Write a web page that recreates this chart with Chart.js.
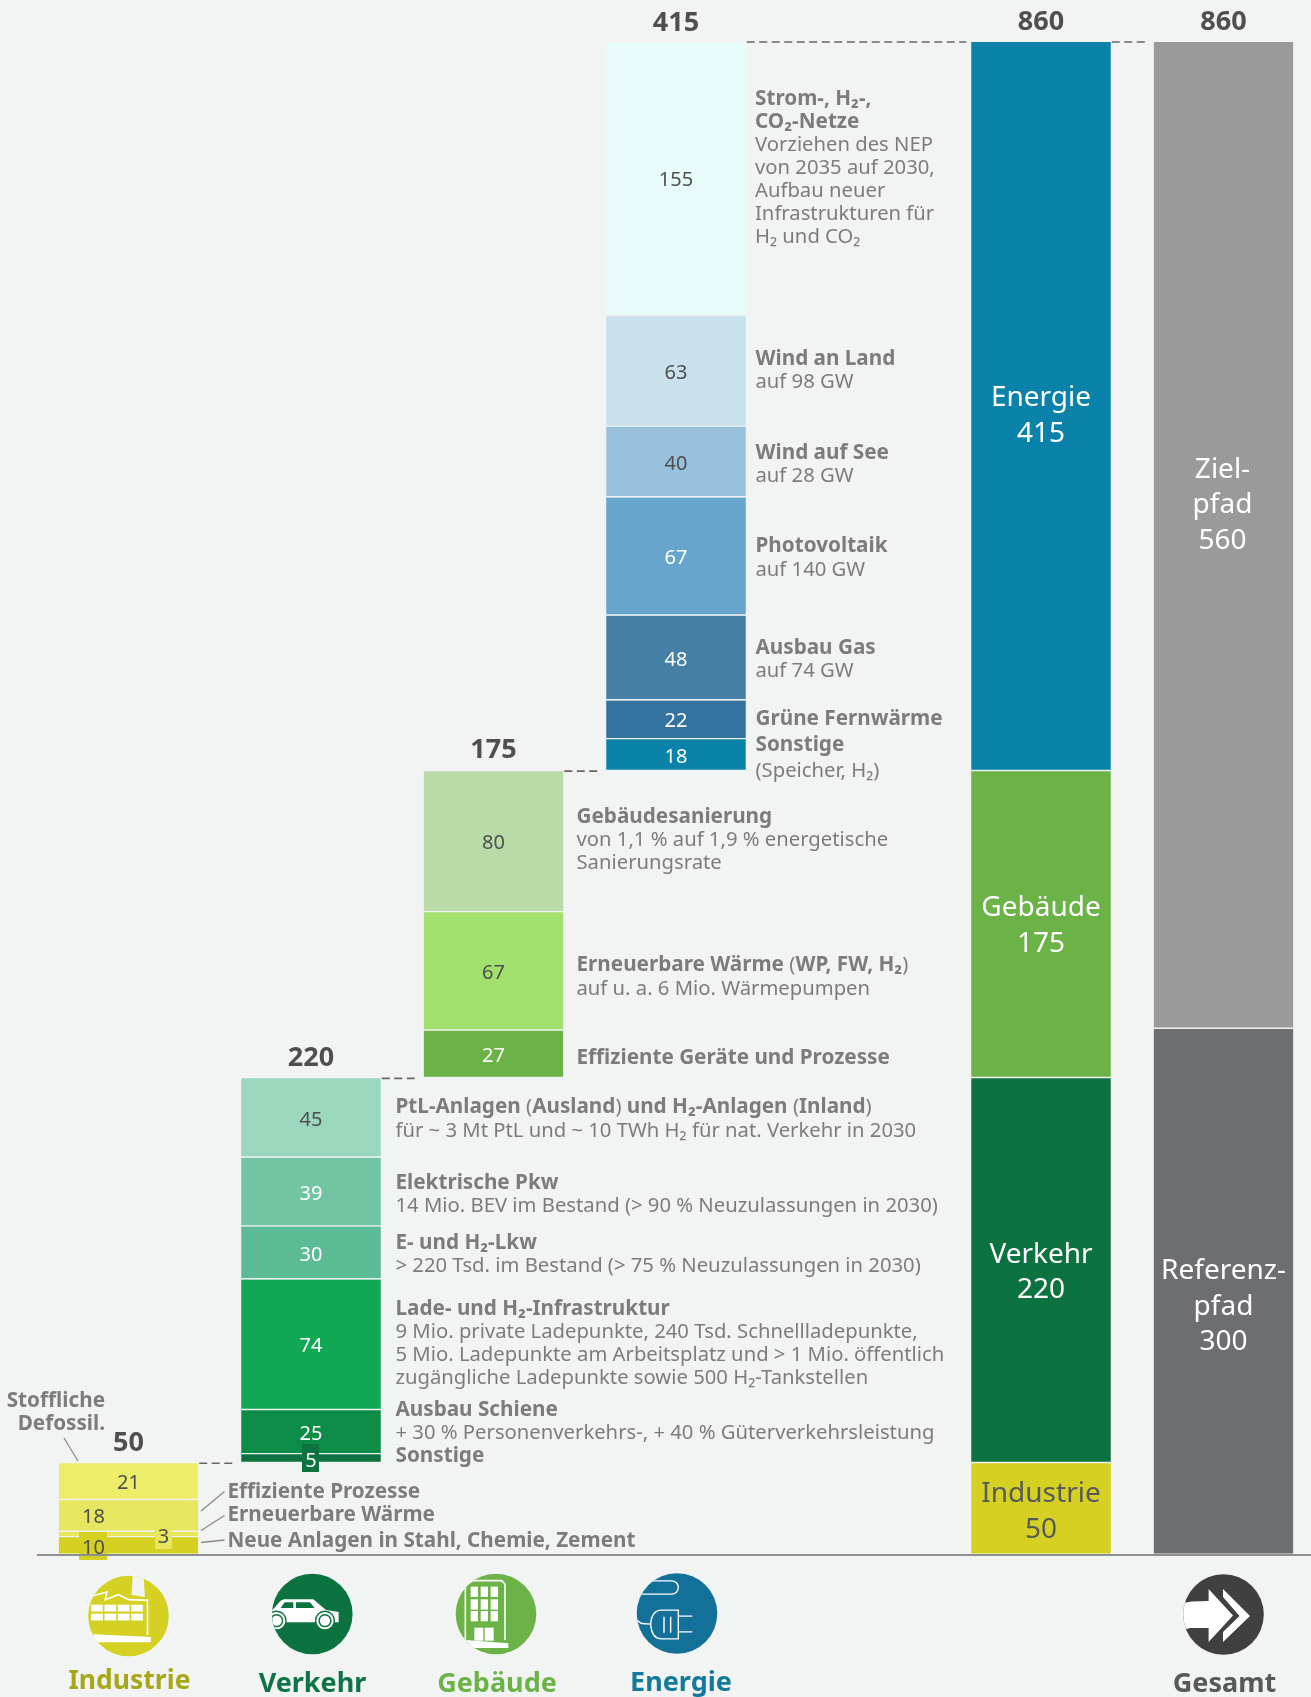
<!DOCTYPE html>
<html lang="de"><head><meta charset="utf-8">
<style>html,body{margin:0;padding:0;background:#f2f4f3;overflow:hidden}canvas{display:block}</style>
<script src="https://cdn.jsdelivr.net/npm/chart.js@4/dist/chart.umd.min.js"></script>
</head><body><div style="width:1311px;height:1697px;position:relative"><canvas id="c" width="1311" height="1697"></canvas></div>
<script>
// ---- data ----
const categories = ['Industrie','Verkehr','Gebäude','Energie','','Summe','Gesamt'];
const industrieValues = [10,3,18,21];
const verkehrValues   = [5,25,74,30,39,45];
const gebaeudeValues  = [27,67,80];
const energieValues   = [18,22,48,67,40,63,155];
const sectorNames  = ['Industrie','Verkehr','Gebäude','Energie'];
const sectorHeights = [52,218,174,413];
const sectorLabels = ['50','220','175','415'];
const pathNames = ['Referenzpfad','Zielpfad'];
const pathHeights = [298,559];
const pathLabels = ['300','560'];
const totalLabels = ['50','220','175','415','860','860'];

const industrieColors = ['#d4d122','#e8e65b','#e6e65f','#eded69'];
const verkehrColors   = ['#0c7340','#0d8c48','#10a854','#5bbb94','#72c5a2','#9bd7bd'];
const gebaeudeColors  = ['#6cb347','#a2e06d','#b8dba8'];
const energieColors   = ['#0a82aa','#34739f','#457fa6','#67a5cc','#97c1dc','#c9e0ed','#e8fbfb'];
const sectorColors = ['#d4d122','#0c7340','#6cb347','#0a82aa'];
const pathColors = ['#6d6e71','#9a9a9a'];
const darkText = '#4f4f4f';
const industrieInk = [darkText,darkText,darkText,darkText];
const verkehrInk = ['#fff','#fff','#fff','#fff','#fff',darkText];
const gebaeudeInk = ['#fff',darkText,darkText];
const energieInk = ['#fff','#fff','#fff','#fff',darkText,darkText,darkText];

const noteLines = [
 ['**Strom-, H₂-,'],['**CO₂-Netze'],['Vorziehen des NEP'],['von 2035 auf 2030,'],['Aufbau neuer'],['Infrastrukturen für'],['H₂ und CO₂'],
 ['**Wind an Land'],['auf 98 GW'],['**Wind auf See'],['auf 28 GW'],['**Photovoltaik'],['auf 140 GW'],['**Ausbau Gas'],['auf 74 GW'],
 ['**Grüne Fernwärme'],['**Sonstige'],['(Speicher, H₂)'],
 ['**Gebäudesanierung'],['von 1,1 % auf 1,9 % energetische'],['Sanierungsrate'],
 ['**Erneuerbare Wärme ','(','**WP, FW, H₂',')'],['auf u. a. 6 Mio. Wärmepumpen'],['**Effiziente Geräte und Prozesse'],
 ['**PtL-Anlagen ','(','**Ausland',') ','**und H₂-Anlagen ','(','**Inland',')'],['für ~ 3 Mt PtL und ~ 10 TWh H₂ für nat. Verkehr in 2030'],
 ['**Elektrische Pkw'],['14 Mio. BEV im Bestand (> 90 % Neuzulassungen in 2030)'],
 ['**E- und H₂-Lkw'],['> 220 Tsd. im Bestand (> 75 % Neuzulassungen in 2030)'],
 ['**Lade- und H₂-Infrastruktur'],['9 Mio. private Ladepunkte, 240 Tsd. Schnellladepunkte,'],['5 Mio. Ladepunkte am Arbeitsplatz und > 1 Mio. öffentlich'],['zugängliche Ladepunkte sowie 500 H₂-Tankstellen'],
 ['**Ausbau Schiene'],['+ 30 % Personenverkehrs-, + 40 % Güterverkehrsleistung'],['**Sonstige'],
 ['**Effiziente Prozesse'],['**Erneuerbare Wärme'],['**Neue Anlagen in Stahl, Chemie, Zement']
];

// ---- layout ----
const noteXY = [
 [755,104.5],[755,128],[755,151],[755,174],[755,197],[755,220],[755,243],
 [755.5,365],[755.5,388],[755.5,459],[755.5,482],[755.5,552],[755.5,575.5],[755.5,654],[755.5,677],
 [755.5,725],[755.5,751],[755.5,776.5],
 [576.5,823],[576.5,846],[576.5,869],
 [576.5,971],[576.5,994.5],[576.5,1064],
 [395.5,1113],[395.5,1136.5],[395.5,1189],[395.5,1212],[395.5,1249],[395.5,1272],
 [395.5,1315],[395.5,1338],[395.5,1361],[395.5,1384],[395.5,1416],[395.5,1439],[395.5,1462],
 [227.5,1497.5],[227.5,1521],[227.5,1546.5]
];
const FONT = '"Noto Sans"';
const BG = '#f2f4f3';
const NOTE = '#7c7c7c';

function floating(list, colIndex, start, colors, names){
  let base = start;
  return list.map((v,i)=>{
    const data = categories.map(()=>null);
    data[colIndex] = [base, base+v];
    base += v;
    return {label:(names&&names[i])||categories[colIndex]+' '+v, data, backgroundColor:colors[i]};
  });
}
function sum(a){return a.reduce((s,v)=>s+v,0);}
const s0 = sum(industrieValues), s1 = s0+sum(verkehrValues), s2 = s1+sum(gebaeudeValues), s3 = s2+sum(energieValues);
const datasets = [
 ...floating(industrieValues,0,0,industrieColors),
 ...floating(verkehrValues,1,s0,verkehrColors),
 ...floating(gebaeudeValues,2,s1,gebaeudeColors),
 ...floating(energieValues,3,s2,energieColors),
 ...floating(sectorHeights,5,0,sectorColors,sectorNames),
 ...floating(pathHeights,6,0,pathColors,pathNames)
];
const inks = [...industrieInk,...verkehrInk,...gebaeudeInk,...energieInk];
const segLabels = [...industrieValues,...verkehrValues,...gebaeudeValues,...energieValues];

function rect(ctx,x,y,w,h,c){ctx.fillStyle=c;ctx.fillRect(x,y,w,h);}
function txt(ctx,s,x,y,font,color,align){ctx.font=font;ctx.fillStyle=color;ctx.textAlign=align||'left';ctx.textBaseline='alphabetic';ctx.fillText(s,x,y);}
function line(ctx,pts,c,w,dash){ctx.beginPath();pts.forEach((p,i)=>i?ctx.lineTo(p[0],p[1]):ctx.moveTo(p[0],p[1]));ctx.strokeStyle=c;ctx.lineWidth=w;ctx.setLineDash(dash||[]);ctx.stroke();ctx.setLineDash([]);}

function drawIcons(ctx){
  const W='#ffffff';
  const disc=(cx,cy,c,fn)=>{ctx.save();ctx.beginPath();ctx.arc(cx,cy,40.3,0,Math.PI*2);ctx.fillStyle=c;ctx.fill();ctx.clip();fn();ctx.restore();};
  const poly=(pts,c)=>{ctx.beginPath();pts.forEach((p,i)=>i?ctx.lineTo(p[0],p[1]):ctx.moveTo(p[0],p[1]));ctx.closePath();ctx.fillStyle=c;ctx.fill();};
  // Industrie
  let cx=128.5,cy=1616;
  const zi=(x,y)=>[cx+(x-205)/3,cy+(y-169)/3];
  disc(cx,cy,'#d4d122',()=>{
    poly([zi(218,40),zi(250,40),zi(254,112),zi(214,106)],BG);
    line(ctx,[zi(92,110),zi(140,97),zi(135,120),zi(175,105),zi(205,120),zi(262,122),zi(262,226)],W,1.6);
    for(const y of [135,162])for(const x of [93,133,173,213]){const p=zi(x,y);rect(ctx,p[0],p[1],11.7,6.8,W);}
    poly([zi(100,224),zi(272,232),zi(272,248),zi(100,248)],W);
  });
  // Verkehr
  cx=312.3;cy=1614;
  const zv=(x,y)=>[cx+(x-757)/3,cy+(y-162)/3];
  disc(cx,cy,'#0c7340',()=>{
    poly([zv(630,158),zv(662,122),zv(672,118),zv(760,118),zv(798,150),zv(836,156),zv(836,187),zv(630,187)],W);
    poly([zv(662,144),zv(674,127),zv(700,127),zv(700,144)],'#0c7340');
    poly([zv(708,127),zv(750,127),zv(764,144),zv(708,144)],'#0c7340');
    for(const [x,y,r] of [[650,182,26],[795,182,26]]){const p=zv(x,y);
      ctx.beginPath();ctx.arc(p[0],p[1],r/3+1.4,0,7);ctx.fillStyle='#0c7340';ctx.fill();
      ctx.beginPath();ctx.arc(p[0],p[1],r/3,0,7);ctx.fillStyle=W;ctx.fill();
      ctx.beginPath();ctx.arc(p[0],p[1],r/3-2,0,7);ctx.fillStyle='#0c7340';ctx.fill();
      ctx.beginPath();ctx.arc(p[0],p[1],r/3-3.5,0,7);ctx.fillStyle=W;ctx.fill();}
  });
  // Gebäude
  cx=496;cy=1614;
  const zg=(x,y)=>[cx+(x-168)/3,cy+(y-162)/3];
  disc(cx,cy,'#6cb347',()=>{
    line(ctx,[zg(76,242),zg(76,70),zg(100,62),zg(185,62),zg(195,72),zg(195,240)],W,1.6);
    for(const y of [80,118,153])for(const x of [92,122,152]){const p=zg(x,y);rect(ctx,p[0],p[1],7.3,10.3,W);}
    for(const x of [103,134]){const p=zg(x,203);rect(ctx,p[0],p[1],9,13,W);}
    poly([zg(76,240),zg(205,250),zg(205,264),zg(100,264)],W);
  });
  // Energie
  cx=677;cy=1613.5;
  const ze=(x,y)=>[cx+(x-711)/3,cy+(y-160)/3];
  disc(cx,cy,'#137099',()=>{
    const a=ze(590,102),b=ze(695,102),c=ze(695,62),d=ze(630,62);
    ctx.beginPath();ctx.moveTo(a[0],a[1]);ctx.lineTo(b[0],b[1]);ctx.arc(b[0],(b[1]+c[1])/2,(b[1]-c[1])/2,Math.PI/2,-Math.PI/2,true);ctx.lineTo(d[0],d[1]);ctx.strokeStyle=W;ctx.lineWidth=1.4;ctx.stroke();
    const m=ze(715,150),n=ze(665,150),o=ze(632,192),q=ze(665,236),r=ze(715,236);
    ctx.beginPath();ctx.moveTo(m[0],m[1]);ctx.lineTo(n[0],n[1]);ctx.quadraticCurveTo(o[0]+1,n[1],o[0],o[1]);ctx.quadraticCurveTo(o[0]+1,q[1],q[0],q[1]);ctx.lineTo(r[0],r[1]);ctx.closePath();ctx.stroke();
    line(ctx,[ze(672,170),ze(672,218)],W,1.4);line(ctx,[ze(692,170),ze(692,218)],W,1.4);
    line(ctx,[ze(715,168),ze(757,168)],W,1.4);line(ctx,[ze(715,215),ze(757,215)],W,1.4);
    line(ctx,[ze(590,180),ze(605,190),ze(632,192)],W,1.4);
  });
  // Gesamt
  cx=1223.5;cy=1614.5;
  disc(cx,cy,'#404041',()=>{
    poly([[1183,1603],[1192,1601.5],[1208.6,1601],[1208.6,1589],[1233,1615.5],[1208.6,1642],[1208.6,1628],[1190,1628],[1183,1630]],W);
    poly([[1223,1589],[1250,1616],[1223,1642],[1223,1632],[1239.5,1616],[1223,1597]],W);
  });
}

const overlay = {
  id:'overlay',
  afterDatasetsDraw(chart){
    const ctx = chart.ctx, x = chart.scales.x, y = chart.scales.y;
    ctx.save();
    const bw = 139.5;
    const colX = i => x.getPixelForValue(i);
    // connectors
    const dash=[8,4.5];
    const conn=(fromCol,toCol,val)=>line(ctx,[[colX(fromCol)+bw/2+1,y.getPixelForValue(val)],[colX(toCol)-bw/2-5,y.getPixelForValue(val)]],'#666666',1.6,dash);
    conn(0,1,s0);conn(1,2,s1);conn(2,3,s2);conn(3,5,s3);conn(5,6,s3);
    // value boxes that stick out of thin bars
    rect(ctx,79,1532,28,28,'#d4d122');
    rect(ctx,155,1520,17,29,'#e8e65b');
    rect(ctx,302,1444,17,28,'#0c7340');
    // baseline
    rect(ctx,37,y.getPixelForValue(0)-1,1274,2,'#8f8f8f');
    // segment labels
    const segFont='20px '+FONT;
    segLabels.forEach((v,i)=>{
      const meta=chart.getDatasetMeta(i), idx=chart.data.datasets[i].data.findIndex(d=>d), el=meta.data[idx];
      let cxx=el.x,cyy=(el.y+el.base)/2+7.5;
      if(i===0){cxx=93.5;cyy=1554;}
      if(i===1){cxx=163.5;cyy=1542.5;}
      if(i===2){cxx=93.5;cyy=1523;}
      if(i===4){cyy=1467;}
      txt(ctx,String(v),cxx,cyy,segFont,inks[i],'center');
    });
    // totals
    const totFont='bold 27px '+FONT, totCol=[0,1,2,3,5,6], totY=[1451,1066,758,31,30,30];
    totalLabels.forEach((t,i)=>txt(ctx,t,colX(totCol[i]),totY[i],totFont,'#4f4f4f','center'));
    // sector column labels
    const lab='28px '+FONT;
    const cx5=colX(5),cx6=colX(6);
    txt(ctx,'Industrie',cx5,1501.5,lab,'#58595b','center');txt(ctx,sectorLabels[0],cx5,1537.5,lab,'#58595b','center');
    txt(ctx,'Verkehr',cx5,1263,lab,'#fff','center');txt(ctx,sectorLabels[1],cx5,1298,lab,'#fff','center');
    txt(ctx,'Gebäude',cx5,916,lab,'#fff','center');txt(ctx,sectorLabels[2],cx5,952,lab,'#fff','center');
    txt(ctx,'Energie',cx5,406,lab,'#fff','center');txt(ctx,sectorLabels[3],cx5,442,lab,'#fff','center');
    txt(ctx,'Ziel-',cx6-1,478,lab,'#fff','center');txt(ctx,'pfad',cx6-1,513,lab,'#fff','center');txt(ctx,pathLabels[1],cx6-1,549,lab,'#fff','center');
    txt(ctx,'Referenz-',cx6,1279,lab,'#fff','center');txt(ctx,'pfad',cx6,1315,lab,'#fff','center');txt(ctx,pathLabels[0],cx6,1350,lab,'#fff','center');
    // notes
    noteLines.forEach((runs,i)=>{
      let [px,py]=noteXY[i];
      runs.forEach(r=>{
        const bold=r.startsWith('**'), s=bold?r.slice(2):r;
        const f=(bold?'bold 20.7px ':'20.25px ')+FONT;
        txt(ctx,s,px,py,f,NOTE);
        px+=ctx.measureText(s).width;
      });
    });
    const bf='bold 20.7px '+FONT;
    txt(ctx,'Stoffliche',105,1406.5,bf,NOTE,'right');
    txt(ctx,'Defossil.',105,1430,bf,NOTE,'right');
    // leader lines
    line(ctx,[[64,1438],[78,1461]],'#8a8a8a',1.3);
    line(ctx,[[201,1511],[224.5,1491.5]],'#8a8a8a',1.3);
    line(ctx,[[201,1530.5],[224.5,1515.5]],'#8a8a8a',1.3);
    line(ctx,[[201,1542.5],[224.5,1540]],'#8a8a8a',1.3);
    // icons and captions
    drawIcons(ctx);
    const cf='bold 27px '+FONT;
    txt(ctx,'Industrie',129.5,1689,'bold 26.5px '+FONT,'#a6a817','center');
    txt(ctx,'Verkehr',312.5,1692,cf,'#0f7348','center');
    txt(ctx,'Gebäude',497,1692,cf,'#6cb347','center');
    txt(ctx,'Energie',681,1691,cf,'#137a9c','center');
    txt(ctx,'Gesamt',1224.5,1692,cf,'#58595b','center');
    ctx.restore();
  }
};

new Chart(document.getElementById('c'),{
  type:'bar',
  data:{labels:categories,datasets},
  plugins:[overlay],
  options:{
    responsive:false,animation:false,
    layout:{padding:{left:128.5,right:87.5,top:42,bottom:142}},
    plugins:{legend:{display:false},tooltip:{enabled:false},title:{display:false}},
    datasets:{bar:{grouped:false,barThickness:139.5,borderSkipped:false,borderColor:'#eef2f1',borderWidth:{top:0,left:0,right:0,bottom:1.8},clip:false}},
    scales:{
      x:{display:false,offset:false,grid:{display:false}},
      y:{display:false,min:0,max:s3,grid:{display:false}}
    }
  }
});
</script></body></html>
